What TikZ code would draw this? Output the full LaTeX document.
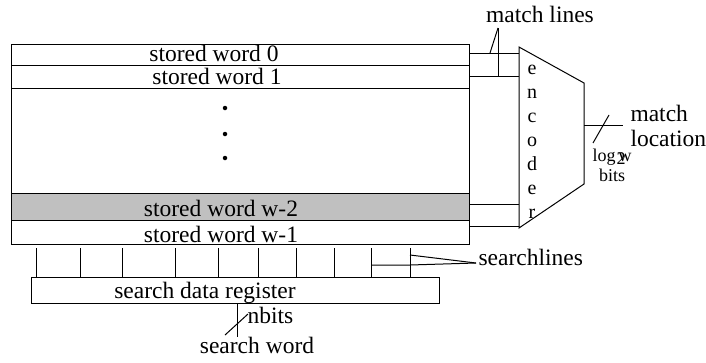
\documentclass[tikz,border=0pt]{standalone}
\usepackage{fontspec}
\setmainfont{Liberation Serif}
\definecolor{rowgray}{RGB}{192,192,192}
\begin{document}
\begin{tikzpicture}[x=1pt,y=-1pt,line width=1pt,
  row/.style={draw,anchor=north west,minimum width=458pt,inner sep=0pt,outer sep=0pt},
  lbl/.style={anchor=base,inner sep=0pt,font=\fontsize{23.5}{28}\selectfont},
  enclbl/.style={anchor=base,inner sep=0pt,font=\fontsize{20}{24}\selectfont},
  smalllbl/.style={anchor=base,inner sep=0pt,font=\fontsize{18}{20}\selectfont},
  dotnode/.style={circle,fill,inner sep=0pt,minimum size=4.5pt},
  regbox/.style={draw,anchor=north west,minimum width=408pt,minimum height=26pt,inner sep=0pt,outer sep=0pt}]
\useasboundingbox (0,0) rectangle (706,362);
% memory rows
\node[row,minimum height=21pt] (r0) at (11,44) {};
\node[row,minimum height=23pt] (r1) at (11,65) {};
\node[row,minimum height=105pt] (rm) at (11,88) {};
\node[row,minimum height=27pt,fill=rowgray] (r2) at (11,193) {};
\node[row,minimum height=24pt] (r3) at (11,220) {};
\node[lbl] (t0) at (214,61) {stored word 0};
\node[lbl] (t1) at (217,84) {stored word 1};
\node[lbl] (t2) at (221,216) {stored word w-2};
\node[lbl] (t3) at (221,242) {stored word w-1};
% dots
\node[dotnode] (d1) at (225,108) {};
\node[dotnode] (d2) at (225,134) {};
\node[dotnode] (d3) at (225,158) {};
% encoder
\coordinate (e1) at (519,47);
\coordinate (e2) at (584,83);
\coordinate (e3) at (584,184);
\coordinate (e4) at (519,228);
\draw (e1) -- (e2) -- (e3) -- (e4) -- cycle;
\foreach \c [count=\i from 0] in {e,n,c,o,d,e,r}
  \node[enclbl] (enc\i) at (532,{74+24*\i}) {\c};
% match lines
\draw ([yshift=1.5pt]r0.east) -- ([yshift=1.5pt]r0.east -| e1);
\draw (r1.east) -- (r1.east -| e1);
\draw ([yshift=2.5pt]r2.east) -- ([yshift=2.5pt]r2.east -| e1);
\draw ([yshift=6pt]r3.east) -- ([yshift=6pt]r3.east -| e1);
\node[lbl] (ml) at (540,22) {match lines};
\coordinate (mlp) at (498,28);
\coordinate (mlq) at (490,53);
\draw (mlp) -- (mlp |- r1.east);
\draw (mlp) -- (mlq);
% output
\coordinate (out) at (584,125);
\coordinate (outend) at (623,125);
\draw (out) -- (outend);
\coordinate (os1) at (609,115);
\coordinate (os2) at (593,143);
\draw (os1) -- (os2);
\node[lbl,anchor=base west] (mloc1) at (630,121) {match};
\node[lbl,anchor=base west] (mloc2) at (630,146) {location};
\node[smalllbl,anchor=base west] (logw) at (592,161) {log\kern1pt\rlap{\raisebox{-3pt}{2}}\kern2pt w};
\node[smalllbl] (bits) at (612,181) {bits};
% search data register
\node[regbox] (reg) at (31,277) {};
\node[lbl] (regt) at (205,298) {search data register};
\foreach \x in {36,80,122,175,218,258,296,334,371,410}
  \draw (\x,248) -- (\x,248 |- reg.north);
\coordinate (sl) at (476,263);
\draw (371,265) -- (410,265) -- (sl);
\draw (410,255) -- (sl);
\node[lbl,anchor=base west] (slt) at (478,265) {searchlines};
% search word input
\coordinate (sw) at (237,337);
\draw (sw |- reg.south) -- (sw);
\coordinate (nb1) at (225,335);
\coordinate (nb2) at (248,314);
\draw (nb1) -- (nb2);
\node[lbl,anchor=base west] (nbits) at (247,323) {nbits};
\node[lbl] (swt) at (257,353) {search word};
\end{tikzpicture}
\end{document}
